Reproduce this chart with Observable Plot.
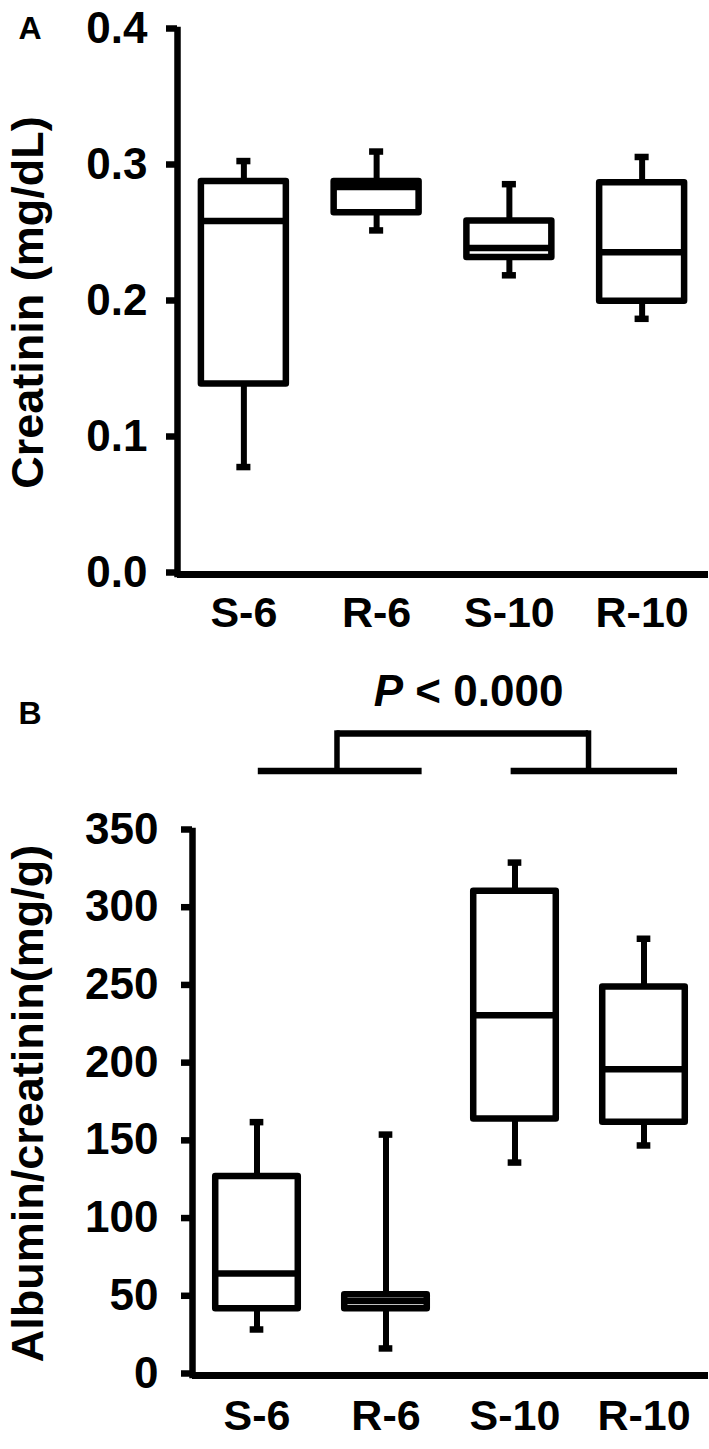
<!DOCTYPE html>
<html>
<head>
<meta charset="utf-8">
<script src="https://cdn.jsdelivr.net/npm/d3@7"></script>
<script src="https://cdn.jsdelivr.net/npm/@observablehq/plot@0.6"></script>
<style>
  html, body { margin: 0; padding: 0; background: #fff; }
  #chart { width: 709px; }
  #chart svg { display: block; }
</style>
</head>
<body>
<div id="chart"></div>
<script>
// ---- data ----
const groups = ["S-6", "R-6", "S-10", "R-10"];

// Panel A: Creatinin (mg/dL)
const creatMin = [0.079, 0.253, 0.220, 0.188];
const creatQ1  = [0.140, 0.266, 0.233, 0.201];
const creatMed = [0.260, 0.285, 0.240, 0.237];
const creatQ3  = [0.289, 0.289, 0.260, 0.288];
const creatMax = [0.304, 0.311, 0.287, 0.307];
const creatTicks = [0, 0.1, 0.2, 0.3, 0.4];

// Panel B: Albumin/creatinin (mg/g)
const acrMin = [29.6, 17.4, 137, 148];
const acrQ1  = [43, 43, 165, 163];
const acrMed = [65.6, 48, 231.7, 197];
const acrQ3  = [128, 52, 311.5, 250];
const acrMax = [163, 155, 330, 281];
const acrTicks = [0, 50, 100, 150, 200, 250, 300, 350];

// significance bracket (panel B, data units)
const bracketText = "P < 0.000";
const bracketBases = [{x1: 1.01, x2: 2.28}, {x1: 2.97, x2: 4.26}];
const bracketLegs = [1.62, 3.57];
const bracketLevels = {base: 389, top: 413, label: 431, labelX: 2.64};

const FONT = "'Liberation Sans', Arial, Helvetica, sans-serif";
const SW = 6.5;
const HW = 0.32;     // half box width (category units)
const CAP = 0.053;   // half cap width

function rowsOf(mn, q1, md, q3, mx) {
  return groups.map((g, i) => ({g, x: i + 1, min: mn[i], q1: q1[i], med: md[i], q3: q3[i], max: mx[i]}));
}

function panel(o) {
  const rows = rowsOf(...o.values);
  return Plot.plot({
    width: 709,
    height: o.height,
    marginLeft: o.marginLeft,
    marginRight: 1,
    marginTop: o.marginTop,
    marginBottom: o.marginBottom,
    style: {fontFamily: FONT, fontWeight: "bold", fontSize: "44px", color: "#000", background: "#fff"},
    x: {domain: [0.5, 4.5]},
    y: {domain: o.yDomain},
    marks: [
      // whiskers
      Plot.ruleX(rows, {x: "x", y1: "q3", y2: "max", stroke: "#000", strokeWidth: 6}),
      Plot.ruleX(rows, {x: "x", y1: "min", y2: "q1", stroke: "#000", strokeWidth: 6}),
      // caps
      Plot.ruleY(rows, {y: "max", x1: d => d.x - CAP, x2: d => d.x + CAP, stroke: "#000", strokeWidth: SW}),
      Plot.ruleY(rows, {y: "min", x1: d => d.x - CAP, x2: d => d.x + CAP, stroke: "#000", strokeWidth: SW}),
      // boxes
      Plot.rect(rows, {x1: d => d.x - HW, x2: d => d.x + HW, y1: "q1", y2: "q3", fill: "#fff", stroke: "#000", strokeWidth: SW, strokeLinejoin: "round"}),
      // medians
      Plot.ruleY(rows, {y: "med", x1: d => d.x - HW, x2: d => d.x + HW, stroke: "#000", strokeWidth: SW}),
      // axis lines
      Plot.ruleX([0.5], {y1: o.yDomain[0], y2: o.yDomain[1], stroke: "#000", strokeWidth: SW, strokeLinecap: "square"}),
      Plot.ruleY([0], {stroke: "#000", strokeWidth: 7}),
      Plot.axisY({ticks: o.yTicks, tickFormat: o.fmt, tickSize: 11, tickPadding: o.tickPadding, strokeWidth: SW, fontSize: 44, fontWeight: "bold", label: null, dy: -2}),
      Plot.axisX({ticks: [1, 2, 3, 4], tickFormat: d => groups[d - 1], tickSize: 0, tickPadding: o.xPad, fontSize: 43, fontWeight: "bold", label: null}),
      // y title
      Plot.text([o.title], {text: d => d, frameAnchor: "left", rotate: -90, textAnchor: "middle", lineAnchor: "bottom", dx: 42 - o.marginLeft, fontSize: 45, fontWeight: "bold"}),
      // panel letter
      Plot.text([o.letter], {text: d => d, frameAnchor: "top-left", textAnchor: "start", lineAnchor: "bottom", dx: 18 - o.marginLeft, dy: o.letterBaseline - o.marginTop, fontSize: 32, fontWeight: "bold"}),
      ...(o.extra || [])
    ]
  });
}

const chartA = panel({
  values: [creatMin, creatQ1, creatMed, creatQ3, creatMax],
  yDomain: [0, 0.4], yTicks: creatTicks, fmt: d3.format(".1f"),
  height: 640, marginLeft: 177, marginTop: 30, marginBottom: 66, tickPadding: 19, xPad: 22,
  title: "Creatinin (mg/dL)", letter: "A", letterBaseline: 38
});

const bracketMarks = [
  Plot.ruleY(bracketBases, {y: bracketLevels.base, x1: "x1", x2: "x2", stroke: "#000", strokeWidth: SW}),
  Plot.ruleX(bracketLegs, {x: d => d, y1: bracketLevels.base, y2: bracketLevels.top, stroke: "#000", strokeWidth: 5.5, strokeLinecap: "square"}),
  Plot.ruleY([bracketLevels.top], {x1: bracketLegs[0], x2: bracketLegs[1], stroke: "#000", strokeWidth: SW}),
  Plot.text([bracketText], {text: d => d, x: bracketLevels.labelX, y: bracketLevels.label, lineAnchor: "bottom", textAnchor: "middle", fontSize: 44, fontWeight: "bold"})
];

const chartB = panel({
  values: [acrMin, acrQ1, acrMed, acrQ3, acrMax],
  yDomain: [0, 350], yTicks: acrTicks, fmt: d3.format("d"),
  height: 809, marginLeft: 192, marginTop: 191, marginBottom: 74, tickPadding: 23, xPad: 24,
  title: "Albumin/creatinin(mg/g)", letter: "B", letterBaseline: 83,
  extra: bracketMarks
});

const host = document.getElementById("chart");
host.appendChild(chartA);
host.appendChild(chartB);

// italic "P" in the significance label
chartB.querySelectorAll("text").forEach(t => {
  if (t.textContent === bracketText) {
    const rest = bracketText.slice(1);
    t.textContent = "";
    const ns = "http://www.w3.org/2000/svg";
    const p = document.createElementNS(ns, "tspan");
    p.setAttribute("font-style", "italic");
    p.textContent = "P";
    const r = document.createElementNS(ns, "tspan");
    r.textContent = rest;
    t.appendChild(p);
    t.appendChild(r);
  }
});
</script>
</body>
</html>
